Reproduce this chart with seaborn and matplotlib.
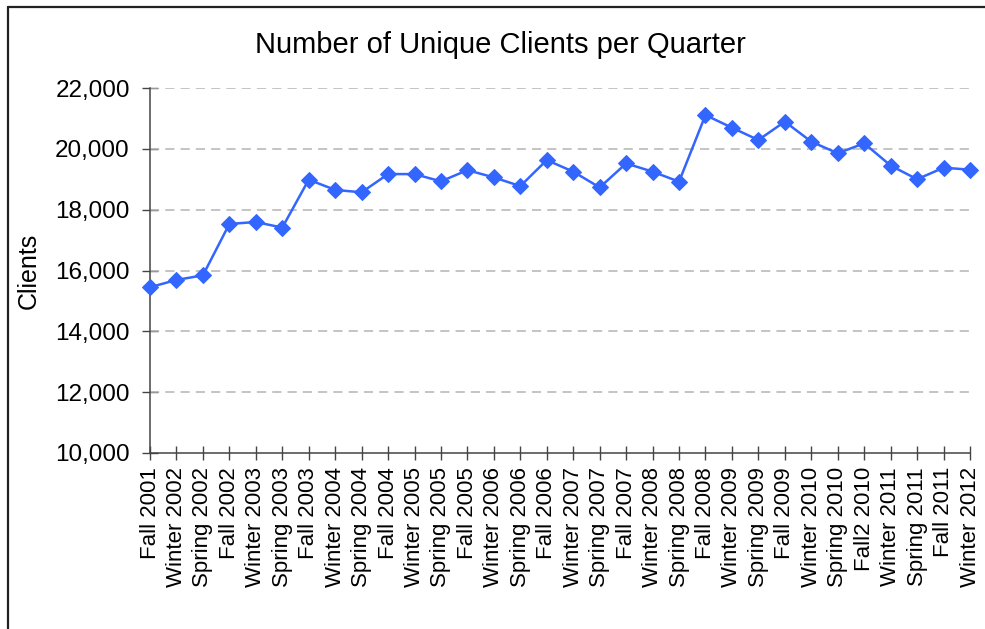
import matplotlib
matplotlib.use("Agg")
import matplotlib.pyplot as plt
import seaborn as sns
import pandas as pd
from matplotlib.lines import Line2D
from matplotlib.ticker import FuncFormatter

# Données
quarters = [
    "Fall 2001", "Winter 2002", "Spring 2002", "Fall 2002", "Winter 2003",
    "Spring 2003", "Fall 2003", "Winter 2004", "Spring 2004", "Fall 2004",
    "Winter 2005", "Spring 2005", "Fall 2005", "Winter 2006", "Spring 2006",
    "Fall 2006", "Winter 2007", "Spring 2007", "Fall 2007", "Winter 2008",
    "Spring 2008", "Fall 2008", "Winter 2009", "Spring 2009", "Fall 2009",
    "Winter 2010", "Spring 2010", "Fall2 2010", "Winter 2011", "Spring 2011",
    "Fall 2011", "Winter 2012",
]
clients = [
    15450, 15690, 15840, 17530, 17595, 17410, 18985, 18650, 18570, 19170,
    19170, 18930, 19300, 19060, 18775, 19630, 19250, 18730, 19520, 19250,
    18920, 21110, 20695, 20290, 20895, 20235, 19855, 20180, 19450, 19000,
    19380, 19315,
]
y_ticks = [10000, 12000, 14000, 16000, 18000, 20000, 22000]

df = pd.DataFrame({"pos": range(len(quarters)), "quarter": quarters, "clients": clients})

sns.set_theme(style="white")
plt.rcParams["font.family"] = ["Liberation Sans", "DejaVu Sans"]
plt.rcParams["text.color"] = "black"
plt.rcParams["axes.labelcolor"] = "black"
plt.rcParams["xtick.labelcolor"] = "black"
plt.rcParams["ytick.labelcolor"] = "black"

fig = plt.figure(figsize=(9.85, 6.29), dpi=100)
ax = fig.add_axes([150 / 985, 1 - 453 / 629, 820 / 985, 365 / 629])

sns.lineplot(data=df, x="pos", y="clients", ax=ax, color="#3366FF",
             linewidth=1.8, marker="D", markersize=8.5,
             markeredgecolor="#3366FF", zorder=3, clip_on=False)

ax.set_xlim(0, len(quarters) - 1)
ax.set_ylim(y_ticks[0], y_ticks[-1])
ax.set_yticks(y_ticks)
ax.yaxis.set_major_formatter(FuncFormatter(lambda v, p: f"{int(v):,}"))
ax.set_xticks(df["pos"])
ax.set_xticklabels(quarters, rotation=90, fontsize=16)

for y in y_ticks[1:]:
    ax.axhline(y, color="#b4b4b4", linewidth=1.1, linestyle=(0, (6, 4)), zorder=1)

ax.tick_params(axis="y", direction="inout", length=11, width=1, color="#444444",
               pad=9, labelsize=17.5, left=True)
ax.tick_params(axis="x", direction="inout", length=10, width=1, color="#444444",
               pad=5, bottom=True)

for side in ["top", "right"]:
    ax.spines[side].set_visible(False)
for side in ["left", "bottom"]:
    ax.spines[side].set_color("#444444")
    ax.spines[side].set_linewidth(1.1)

ax.set_xlabel("")
ax.set_ylabel("Clients", fontsize=18)
ax.yaxis.set_label_coords(-109 / 820, 0.5)

fig.text(500 / 985, 1 - 45 / 629, "Number of Unique Clients per Quarter",
         ha="center", va="center", fontsize=21)

# cadre extérieur (haut et gauche)
fig.add_artist(Line2D([8 / 985, 1.0], [1 - 7 / 629, 1 - 7 / 629],
                      transform=fig.transFigure, color="#222222", linewidth=1.6))
fig.add_artist(Line2D([8 / 985, 8 / 985], [0.0, 1 - 7 / 629],
                      transform=fig.transFigure, color="#222222", linewidth=1.6))

fig.savefig("out.png", dpi=100, facecolor="white")
plt.close(fig)
